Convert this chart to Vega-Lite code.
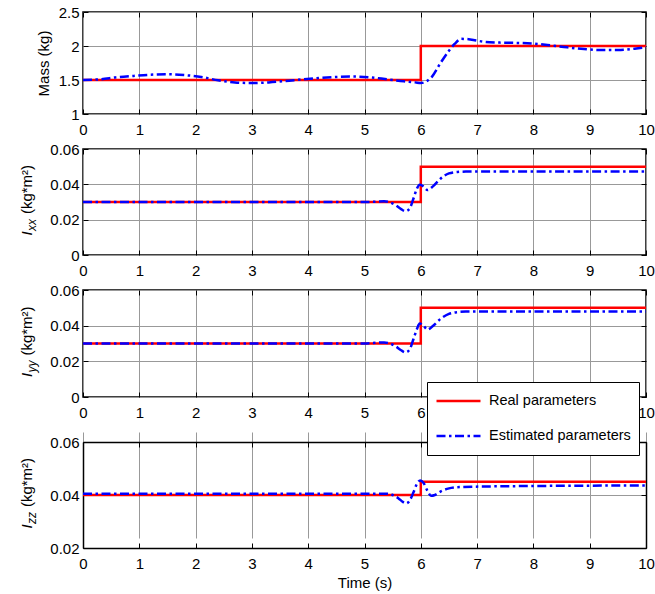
{
  "$schema": "https://vega.github.io/schema/vega-lite/v6.json",
  "padding": {"left": 18, "top": 4, "right": 5, "bottom": 5},
  "background": "white",
  "datasets": {
    "mass": [
      {"t": 0, "v": 1.5, "s": "Real parameters"},
      {"t": 6, "v": 2.0, "s": "Real parameters"},
      {"t": 10, "v": 2.0, "s": "Real parameters"},
      {"t": 0, "v": 1.5, "s": "Estimated parameters"},
      {"t": 0.3, "v": 1.51, "s": "Estimated parameters"},
      {"t": 0.6, "v": 1.54, "s": "Estimated parameters"},
      {"t": 0.9, "v": 1.56, "s": "Estimated parameters"},
      {"t": 1.2, "v": 1.578, "s": "Estimated parameters"},
      {"t": 1.5, "v": 1.585, "s": "Estimated parameters"},
      {"t": 1.8, "v": 1.572, "s": "Estimated parameters"},
      {"t": 2.1, "v": 1.545, "s": "Estimated parameters"},
      {"t": 2.4, "v": 1.495, "s": "Estimated parameters"},
      {"t": 2.7, "v": 1.465, "s": "Estimated parameters"},
      {"t": 3.0, "v": 1.455, "s": "Estimated parameters"},
      {"t": 3.3, "v": 1.465, "s": "Estimated parameters"},
      {"t": 3.6, "v": 1.485, "s": "Estimated parameters"},
      {"t": 3.9, "v": 1.51, "s": "Estimated parameters"},
      {"t": 4.2, "v": 1.53, "s": "Estimated parameters"},
      {"t": 4.5, "v": 1.545, "s": "Estimated parameters"},
      {"t": 4.8, "v": 1.55, "s": "Estimated parameters"},
      {"t": 5.1, "v": 1.54, "s": "Estimated parameters"},
      {"t": 5.4, "v": 1.51, "s": "Estimated parameters"},
      {"t": 5.7, "v": 1.48, "s": "Estimated parameters"},
      {"t": 5.9, "v": 1.465, "s": "Estimated parameters"},
      {"t": 6.0, "v": 1.455, "s": "Estimated parameters"},
      {"t": 6.1, "v": 1.48, "s": "Estimated parameters"},
      {"t": 6.2, "v": 1.55, "s": "Estimated parameters"},
      {"t": 6.35, "v": 1.75, "s": "Estimated parameters"},
      {"t": 6.5, "v": 1.93, "s": "Estimated parameters"},
      {"t": 6.6, "v": 2.03, "s": "Estimated parameters"},
      {"t": 6.72, "v": 2.105, "s": "Estimated parameters"},
      {"t": 6.85, "v": 2.1, "s": "Estimated parameters"},
      {"t": 7.1, "v": 2.065, "s": "Estimated parameters"},
      {"t": 7.4, "v": 2.05, "s": "Estimated parameters"},
      {"t": 7.7, "v": 2.045, "s": "Estimated parameters"},
      {"t": 8.0, "v": 2.035, "s": "Estimated parameters"},
      {"t": 8.3, "v": 2.01, "s": "Estimated parameters"},
      {"t": 8.6, "v": 1.98, "s": "Estimated parameters"},
      {"t": 8.9, "v": 1.955, "s": "Estimated parameters"},
      {"t": 9.2, "v": 1.94, "s": "Estimated parameters"},
      {"t": 9.5, "v": 1.94, "s": "Estimated parameters"},
      {"t": 9.8, "v": 1.96, "s": "Estimated parameters"},
      {"t": 10, "v": 1.98, "s": "Estimated parameters"}
    ],
    "ixx": [
      {"t": 0, "v": 0.03, "s": "Real parameters"},
      {"t": 6, "v": 0.05, "s": "Real parameters"},
      {"t": 10, "v": 0.05, "s": "Real parameters"},
      {"t": 0, "v": 0.03, "s": "Estimated parameters"},
      {"t": 5.0, "v": 0.03, "s": "Estimated parameters"},
      {"t": 5.2, "v": 0.0302, "s": "Estimated parameters"},
      {"t": 5.35, "v": 0.0304, "s": "Estimated parameters"},
      {"t": 5.45, "v": 0.0298, "s": "Estimated parameters"},
      {"t": 5.55, "v": 0.0283, "s": "Estimated parameters"},
      {"t": 5.65, "v": 0.026, "s": "Estimated parameters"},
      {"t": 5.73, "v": 0.0248, "s": "Estimated parameters"},
      {"t": 5.8, "v": 0.0262, "s": "Estimated parameters"},
      {"t": 5.87, "v": 0.032, "s": "Estimated parameters"},
      {"t": 5.93, "v": 0.0375, "s": "Estimated parameters"},
      {"t": 5.98, "v": 0.0398, "s": "Estimated parameters"},
      {"t": 6.04, "v": 0.039, "s": "Estimated parameters"},
      {"t": 6.12, "v": 0.0368, "s": "Estimated parameters"},
      {"t": 6.22, "v": 0.039, "s": "Estimated parameters"},
      {"t": 6.35, "v": 0.0432, "s": "Estimated parameters"},
      {"t": 6.5, "v": 0.0462, "s": "Estimated parameters"},
      {"t": 6.65, "v": 0.047, "s": "Estimated parameters"},
      {"t": 6.8, "v": 0.0472, "s": "Estimated parameters"},
      {"t": 10, "v": 0.0472, "s": "Estimated parameters"}
    ],
    "iyy": [
      {"t": 0, "v": 0.03, "s": "Real parameters"},
      {"t": 6, "v": 0.05, "s": "Real parameters"},
      {"t": 10, "v": 0.05, "s": "Real parameters"},
      {"t": 0, "v": 0.03, "s": "Estimated parameters"},
      {"t": 5.0, "v": 0.03, "s": "Estimated parameters"},
      {"t": 5.2, "v": 0.0304, "s": "Estimated parameters"},
      {"t": 5.35, "v": 0.0306, "s": "Estimated parameters"},
      {"t": 5.45, "v": 0.03, "s": "Estimated parameters"},
      {"t": 5.55, "v": 0.0285, "s": "Estimated parameters"},
      {"t": 5.65, "v": 0.0262, "s": "Estimated parameters"},
      {"t": 5.73, "v": 0.025, "s": "Estimated parameters"},
      {"t": 5.8, "v": 0.0265, "s": "Estimated parameters"},
      {"t": 5.87, "v": 0.0325, "s": "Estimated parameters"},
      {"t": 5.93, "v": 0.038, "s": "Estimated parameters"},
      {"t": 5.98, "v": 0.0412, "s": "Estimated parameters"},
      {"t": 6.04, "v": 0.0402, "s": "Estimated parameters"},
      {"t": 6.12, "v": 0.0378, "s": "Estimated parameters"},
      {"t": 6.22, "v": 0.04, "s": "Estimated parameters"},
      {"t": 6.35, "v": 0.0438, "s": "Estimated parameters"},
      {"t": 6.5, "v": 0.0466, "s": "Estimated parameters"},
      {"t": 6.65, "v": 0.0476, "s": "Estimated parameters"},
      {"t": 6.8, "v": 0.0479, "s": "Estimated parameters"},
      {"t": 10, "v": 0.0479, "s": "Estimated parameters"}
    ],
    "izz": [
      {"t": 0, "v": 0.04, "s": "Real parameters"},
      {"t": 6, "v": 0.045, "s": "Real parameters"},
      {"t": 10, "v": 0.045, "s": "Real parameters"},
      {"t": 0, "v": 0.0405, "s": "Estimated parameters"},
      {"t": 5.4, "v": 0.0405, "s": "Estimated parameters"},
      {"t": 5.5, "v": 0.04, "s": "Estimated parameters"},
      {"t": 5.6, "v": 0.0388, "s": "Estimated parameters"},
      {"t": 5.68, "v": 0.0374, "s": "Estimated parameters"},
      {"t": 5.74, "v": 0.0368, "s": "Estimated parameters"},
      {"t": 5.8, "v": 0.0378, "s": "Estimated parameters"},
      {"t": 5.87, "v": 0.041, "s": "Estimated parameters"},
      {"t": 5.93, "v": 0.0442, "s": "Estimated parameters"},
      {"t": 5.99, "v": 0.0455, "s": "Estimated parameters"},
      {"t": 6.05, "v": 0.0445, "s": "Estimated parameters"},
      {"t": 6.12, "v": 0.0415, "s": "Estimated parameters"},
      {"t": 6.18, "v": 0.0397, "s": "Estimated parameters"},
      {"t": 6.25, "v": 0.04, "s": "Estimated parameters"},
      {"t": 6.35, "v": 0.0413, "s": "Estimated parameters"},
      {"t": 6.5, "v": 0.0425, "s": "Estimated parameters"},
      {"t": 6.7, "v": 0.043, "s": "Estimated parameters"},
      {"t": 7.5, "v": 0.0433, "s": "Estimated parameters"},
      {"t": 10, "v": 0.0436, "s": "Estimated parameters"}
    ]
  },
  "bounds": "flush",
  "spacing": 35,
  "resolve": {"scale": {"color": "independent", "strokeDash": "independent"}},
  "vconcat": [
    {
      "width": 563, "height": 102,
      "data": {"name": "mass"},
      "layer": [
        {
          "transform": [{"filter": "datum.s === 'Real parameters'"}],
          "mark": {"type": "line", "interpolate": "step-after", "strokeWidth": 2.5, "color": "#ff0000"},
          "encoding": {
            "x": {"field": "t", "type": "quantitative", "scale": {"domain": [0, 10], "nice": false},
                  "axis": {"orient": "bottom", "values": [0,1,2,3,4,5,6,7,8,9,10], "grid": true, "title": null}},
            "y": {"field": "v", "type": "quantitative", "scale": {"domain": [1, 2.5], "nice": false, "zero": false},
                  "axis": {"orient": "left", "values": [1, 1.5, 2, 2.5], "grid": true, "format": "~g",
                           "title": "Mass (kg)", "titleX": -35, "titleY": 51, "titleAngle": 270, "titleAlign": "center", "titleBaseline": "alphabetic"}}
          }
        },
        {
          "transform": [{"filter": "datum.s === 'Estimated parameters'"}],
          "mark": {"type": "line", "interpolate": "monotone", "strokeWidth": 2.5, "color": "#0000ff", "strokeDash": [9, 3.5, 2.5, 3.5]},
          "encoding": {
            "x": {"field": "t", "type": "quantitative", "scale": {"domain": [0, 10], "nice": false},
                  "axis": {"orient": "top", "values": [0,1,2,3,4,5,6,7,8,9,10], "grid": false, "labels": false, "title": null}},
            "y": {"field": "v", "type": "quantitative", "scale": {"domain": [1, 2.5], "nice": false, "zero": false},
                  "axis": {"orient": "right", "values": [1, 1.5, 2, 2.5], "grid": false, "labels": false, "title": null}}
          }
        }
      ],
      "resolve": {"axis": {"x": "independent", "y": "independent"}}
    },
    {
      "width": 563, "height": 106,
      "data": {"name": "ixx"},
      "layer": [
        {
          "transform": [{"filter": "datum.s === 'Real parameters'"}],
          "mark": {"type": "line", "interpolate": "step-after", "strokeWidth": 2.5, "color": "#ff0000"},
          "encoding": {
            "x": {"field": "t", "type": "quantitative", "scale": {"domain": [0, 10], "nice": false},
                  "axis": {"orient": "bottom", "values": [0,1,2,3,4,5,6,7,8,9,10], "grid": true, "title": null}},
            "y": {"field": "v", "type": "quantitative", "scale": {"domain": [0, 0.06], "nice": false, "zero": false},
                  "axis": {"orient": "left", "values": [0, 0.02, 0.04, 0.06], "grid": true, "format": "~g",
                           "title": "(kg*m²)", "titleX": -52, "titleY": 40, "titleAngle": 270, "titleAlign": "center", "titleBaseline": "alphabetic"}}
          }
        },
        {
          "transform": [{"filter": "datum.s === 'Estimated parameters'"}],
          "mark": {"type": "line", "interpolate": "monotone", "strokeWidth": 2.5, "color": "#0000ff", "strokeDash": [9, 3.5, 2.5, 3.5]},
          "encoding": {
            "x": {"field": "t", "type": "quantitative", "scale": {"domain": [0, 10], "nice": false},
                  "axis": {"orient": "top", "values": [0,1,2,3,4,5,6,7,8,9,10], "grid": false, "labels": false,
                           "title": "I", "titleX": -52, "titleY": 84, "titleAngle": 270, "titleAlign": "center", "titleBaseline": "alphabetic", "titleFontStyle": "italic"}},
            "y": {"field": "v", "type": "quantitative", "scale": {"domain": [0, 0.06], "nice": false, "zero": false},
                  "axis": {"orient": "right", "values": [0, 0.02, 0.04, 0.06], "grid": false, "labels": false,
                           "title": "xx", "titleX": -611, "titleY": 75.5, "titleAngle": 270, "titleAlign": "center", "titleBaseline": "alphabetic", "titleFontStyle": "italic", "titleFontSize": 12}}
          }
        }
      ],
      "resolve": {"axis": {"x": "independent", "y": "independent"}}
    },
    {
      "width": 563, "height": 107,
      "data": {"name": "iyy"},
      "layer": [
        {
          "transform": [{"filter": "datum.s === 'Real parameters'"}],
          "mark": {"type": "line", "interpolate": "step-after", "strokeWidth": 2.5, "color": "#ff0000"},
          "encoding": {
            "x": {"field": "t", "type": "quantitative", "scale": {"domain": [0, 10], "nice": false},
                  "axis": {"orient": "bottom", "values": [0,1,2,3,4,5,6,7,8,9,10], "grid": true, "title": null}},
            "y": {"field": "v", "type": "quantitative", "scale": {"domain": [0, 0.06], "nice": false, "zero": false},
                  "axis": {"orient": "left", "values": [0, 0.02, 0.04, 0.06], "grid": true, "format": "~g",
                           "title": "(kg*m²)", "titleX": -52, "titleY": 40.5, "titleAngle": 270, "titleAlign": "center", "titleBaseline": "alphabetic"}}
          }
        },
        {
          "transform": [{"filter": "datum.s === 'Estimated parameters'"}],
          "mark": {"type": "line", "interpolate": "monotone", "strokeWidth": 2.5, "color": "#0000ff", "strokeDash": [9, 3.5, 2.5, 3.5]},
          "encoding": {
            "x": {"field": "t", "type": "quantitative", "scale": {"domain": [0, 10], "nice": false},
                  "axis": {"orient": "top", "values": [0,1,2,3,4,5,6,7,8,9,10], "grid": false, "labels": false,
                           "title": "I", "titleX": -52, "titleY": 84.5, "titleAngle": 270, "titleAlign": "center", "titleBaseline": "alphabetic", "titleFontStyle": "italic"}},
            "y": {"field": "v", "type": "quantitative", "scale": {"domain": [0, 0.06], "nice": false, "zero": false},
                  "axis": {"orient": "right", "values": [0, 0.02, 0.04, 0.06], "grid": false, "labels": false,
                           "title": "yy", "titleX": -611, "titleY": 76, "titleAngle": 270, "titleAlign": "center", "titleBaseline": "alphabetic", "titleFontStyle": "italic", "titleFontSize": 12}}
          }
        }
      ],
      "resolve": {"axis": {"x": "independent", "y": "independent"}}
    },
    {
      "width": 563, "height": 116,
      "view": {"stroke": null},
      "data": {"name": "izz"},
      "layer": [
        {
          "transform": [{"filter": "datum.s === 'Real parameters'"}],
          "mark": {"type": "line", "interpolate": "step-after", "strokeWidth": 2.5},
          "encoding": {
            "x": {"field": "t", "type": "quantitative", "scale": {"domain": [0, 10], "nice": false},
                  "axis": {"orient": "bottom", "values": [0,1,2,3,4,5,6,7,8,9,10], "grid": true, "domain": true,
                           "title": "Time (s)", "titleX": 281.5, "titleY": 39, "titleAlign": "center", "titleBaseline": "alphabetic"}},
            "y": {"field": "v", "type": "quantitative", "scale": {"domain": [0.02, 0.06], "nice": false, "zero": false, "range": [116, 10]},
                  "axis": {"orient": "left", "values": [0.02, 0.04, 0.06], "grid": true, "format": "~g", "domain": true,
                           "title": "(kg*m²)", "titleX": -52, "titleY": 50, "titleAngle": 270, "titleAlign": "center", "titleBaseline": "alphabetic"}},
            "color": {"field": "s", "type": "nominal",
                      "scale": {"domain": ["Real parameters", "Estimated parameters"], "range": ["#ff0000", "#0000ff"]},
                      "legend": {"orient": "none", "legendX": 344, "legendY": -50, "title": null, "zindex": 5,
                                 "symbolType": "stroke", "symbolSize": 1936, "symbolStrokeWidth": 2.5, "clipHeight": 22,
                                 "labelFontSize": 14.5, "labelColor": "#000000", "labelOffset": 7,
                                 "strokeColor": "#000000", "fillColor": "#ffffff", "padding": 8, "rowPadding": 13}},
            "strokeDash": {"field": "s", "type": "nominal",
                           "scale": {"domain": ["Real parameters", "Estimated parameters"], "range": [[1, 0], [9, 3.5, 2.5, 3.5]]},
                           "legend": {"orient": "none", "legendX": 344, "legendY": -50, "title": null, "zindex": 5,
                                      "symbolType": "stroke", "symbolSize": 1936, "symbolStrokeWidth": 2.5, "clipHeight": 22,
                                      "labelFontSize": 14.5, "labelColor": "#000000", "labelOffset": 7,
                                      "strokeColor": "#000000", "fillColor": "#ffffff", "padding": 8, "rowPadding": 13}}
          }
        },
        {
          "transform": [{"filter": "datum.s === 'Estimated parameters'"}],
          "mark": {"type": "line", "interpolate": "monotone", "strokeWidth": 2.5},
          "encoding": {
            "x": {"field": "t", "type": "quantitative", "scale": {"domain": [0, 10], "nice": false},
                  "axis": {"orient": "top", "offset": -10, "values": [0,1,2,3,4,5,6,7,8,9,10], "grid": false, "labels": false, "domain": true,
                           "title": "I", "titleX": -52, "titleY": 84, "titleAngle": 270, "titleAlign": "center", "titleBaseline": "alphabetic", "titleFontStyle": "italic"}},
            "y": {"field": "v", "type": "quantitative", "scale": {"domain": [0.02, 0.06], "nice": false, "zero": false, "range": [116, 10]},
                  "axis": {"orient": "right", "values": [0.02, 0.04, 0.06], "grid": false, "labels": false, "domain": true,
                           "title": "zz", "titleX": -611, "titleY": 85.5, "titleAngle": 270, "titleAlign": "center", "titleBaseline": "alphabetic", "titleFontStyle": "italic", "titleFontSize": 12}},
            "color": {"field": "s", "type": "nominal",
                      "scale": {"domain": ["Real parameters", "Estimated parameters"], "range": ["#ff0000", "#0000ff"]}},
            "strokeDash": {"field": "s", "type": "nominal",
                           "scale": {"domain": ["Real parameters", "Estimated parameters"], "range": [[1, 0], [9, 3.5, 2.5, 3.5]]}}
          }
        }
      ],
      "resolve": {"axis": {"x": "independent", "y": "independent"}}
    }
  ],
  "config": {
    "font": "Liberation Sans",
    "view": {"stroke": "#000000", "strokeWidth": 1.5},
    "axis": {
      "domain": false, "domainColor": "#000000", "domainWidth": 1.5, "tickColor": "#000000", "tickSize": -5, "tickWidth": 1,
      "labelColor": "#000000", "labelFontSize": 15, "labelFlush": false, "labelOverlap": false,
      "gridColor": "#999999", "gridWidth": 1, "gridOpacity": 1,
      "titleColor": "#000000", "titleFontSize": 15, "titleFontWeight": "normal", "titlePadding": 0
    },
    "axisBottom": {"labelPadding": 13},
    "axisLeft": {"labelPadding": 9}
  }
}
